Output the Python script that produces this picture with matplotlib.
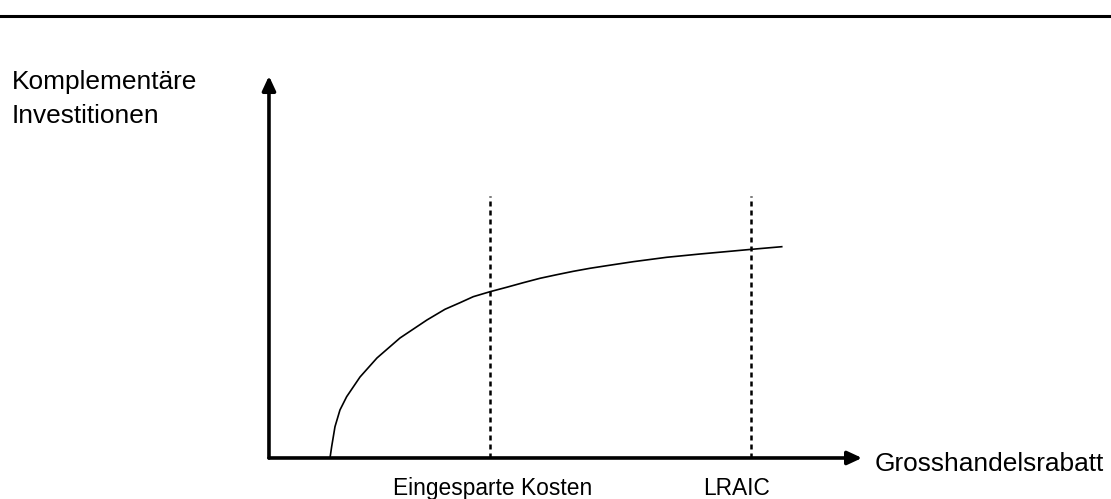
import matplotlib
matplotlib.use("Agg")
import matplotlib.pyplot as plt
from matplotlib.lines import Line2D

plt.rcParams['font.family'] = ['Liberation Sans', 'DejaVu Sans']

# Kurve: komplementäre Investitionen in Abhängigkeit vom Grosshandelsrabatt
rabatt = [10.29, 10.57, 11.13, 11.97, 13.10, 15.35, 18.21, 22.09, 26.64,
          29.68, 32.21, 34.45, 37.27, 40.08, 42.88, 45.70, 48.52, 51.32,
          54.13, 56.95, 61.43, 67.07, 72.68, 78.30, 81.40, 86.46]
investitionen = [0.0, 2.96, 8.19, 12.57, 16.05, 21.20, 26.18, 31.41, 36.13,
                 38.93, 40.65, 42.23, 43.53, 44.69, 45.89, 47.04, 47.98, 48.87,
                 49.66, 50.34, 51.39, 52.54, 53.40, 54.19, 54.63, 55.31]

# Referenzpunkte (senkrechte gestrichelte Linien)
ref_x = [37.3, 81.3]
ref_labels = ['Eingesparte Kosten', 'LRAIC']
ref_top = 68.6

fig = plt.figure(figsize=(11.11, 4.99), dpi=100)
ax = fig.add_axes([0.2421, 0.0822, 0.5338, 0.7655])
ax.set_xlim(0, 100)
ax.set_ylim(0, 100)
ax.axis('off')

# Achsen mit Pfeilen
arrow = dict(arrowstyle='-|>,head_length=0.43,head_width=0.2', lw=2.6,
             color='black', mutation_scale=20, shrinkA=0, shrinkB=0)
ax.annotate('', xy=(1, 0), xytext=(0, 0), xycoords='axes fraction', arrowprops=arrow)
ax.annotate('', xy=(0, 1), xytext=(0, 0), xycoords='axes fraction', arrowprops=arrow)

ax.plot(rabatt, investitionen, color='black', lw=1.2, clip_on=False,
        solid_joinstyle='round')

for x in ref_x:
    ax.plot([x, x], [0, ref_top], color='black', lw=1.8,
            linestyle=(0, (2.0, 1.6)), clip_on=False)

# Beschriftungen
fig.text(0.0108, 0.821, 'Komplementäre', fontsize=18.9, va='baseline')
fig.text(0.0108, 0.753, 'Investitionen', fontsize=18.9, va='baseline')
fig.text(0.7876, 0.0561, 'Grosshandelsrabatt', fontsize=18.9, va='baseline')
for xpos, lab in zip([0.4437, 0.6634], ref_labels):
    fig.text(xpos, 0.008, lab, fontsize=16.4, ha='center', va='baseline')

# Trennlinie oben
fig.add_artist(Line2D([0, 1], [0.968, 0.968], color='black', lw=2.2,
                      transform=fig.transFigure))

fig.savefig('out.png', dpi=100, facecolor='white')
